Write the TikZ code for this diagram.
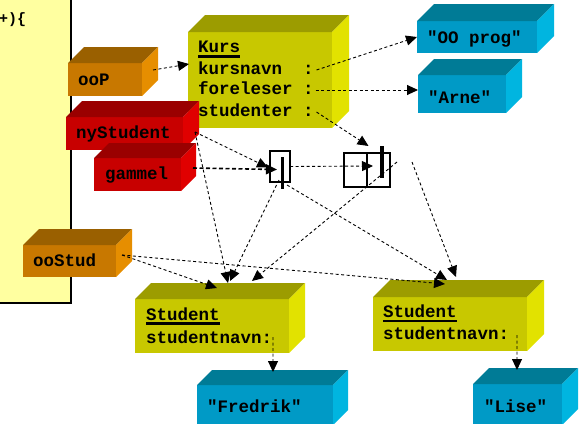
\documentclass[tikz,border=0pt]{standalone}
\usepackage{fontspec}
\setmonofont{Liberation Mono}
\usetikzlibrary{arrows.meta,calc}

\definecolor{panelY}{HTML}{FFFFA0}
\definecolor{olvF}{HTML}{C8C800}
\definecolor{olvT}{HTML}{9C9C00}
\definecolor{olvS}{HTML}{E2E200}
\definecolor{bluF}{HTML}{009AC6}
\definecolor{bluT}{HTML}{007B96}
\definecolor{bluS}{HTML}{00B5E0}
\definecolor{orgF}{HTML}{C87800}
\definecolor{orgT}{HTML}{9A6000}
\definecolor{orgS}{HTML}{E68E00}
\definecolor{redF}{HTML}{C80000}
\definecolor{redT}{HTML}{9A0000}
\definecolor{redS}{HTML}{E00000}

% top and right faces of a block whose front face is node #1
\newcommand\blockfaces[4]{%
  \fill[#3] (#1.north west) -- ++(#2,-#2) -- ($(#1.north east)+(#2,-#2)$) -- (#1.north east) -- cycle;
  \fill[#4] (#1.north east) -- ++(#2,-#2) -- ($(#1.south east)+(#2,-#2)$) -- (#1.south east) -- cycle;}

\tikzset{
  front/.style={inner sep=0pt, outer sep=0pt},
  txt/.style={inner sep=0pt, outer sep=0pt, anchor=base west,
    font=\ttfamily\bfseries\fontsize{17.5}{20}\selectfont},
  refbox/.style={draw, line width=2.5pt, inner sep=0pt, outer sep=0pt},
  conn/.style={draw, line width=0.9pt, dash pattern=on 3pt off 2.5pt,
    -{Triangle[length=11pt,width=10pt]}},
  connthick/.style={conn, line width=1.6pt, dash pattern=on 4pt off 2.5pt},
  uline/.style={line width=2.2pt}
}

\begin{document}
\begin{tikzpicture}[x=1pt,y=-1pt]
\useasboundingbox (0,0) rectangle (580,423);

% code panel on the left
\node[front, fill=panelY, minimum width=71pt, minimum height=303pt] (panel) at (35.5,151.5) {};
\draw[line width=1.2pt] (panel.north east) -- (panel.south east) -- (panel.south west);
\node[inner sep=0pt, anchor=base west, font=\ttfamily\bfseries\fontsize{15}{17}\selectfont] (code) at (-1,23) {+)\{};

% Kurs object
\node[front, fill=olvF, minimum width=144pt, minimum height=96pt] (kurs) at (260,80) {};
\blockfaces{kurs}{17}{olvT}{olvS}
\node[txt] (kursT) at (198,52) {Kurs};
\draw[uline] ($(kursT.base west)+(0,4.5)$) -- ($(kursT.base east)+(0,4.5)$);
\node[txt] (kn) at (198,74) {kursnavn~~:};
\node[txt] (fl) at (198,94) {foreleser~:};
\node[txt] (st) at (198,116) {studenter~:};

% variables
\node[front, fill=orgF, minimum width=74pt, minimum height=33pt] (oop) at (105,79.5) {};
\blockfaces{oop}{16}{orgT}{orgS}
\node[txt] (oopT) at (78,85) {ooP};

\node[front, fill=redF, minimum width=117pt, minimum height=33pt] (nys) at (124.5,133.5) {};
\blockfaces{nys}{16}{redT}{redS}
\node[txt] (nysT) at (76,138) {nyStudent};

\node[front, fill=redF, minimum width=87pt, minimum height=33pt] (gam) at (137.5,174.5) {};
\blockfaces{gam}{15}{redT}{redS}
\node[txt] (gamT) at (105,179) {gammel};

\node[front, fill=orgF, minimum width=93pt, minimum height=32pt] (oos) at (69.5,261) {};
\blockfaces{oos}{16}{orgT}{orgS}
\node[txt] (oosT) at (33,266) {ooStud};

% string objects
\node[front, fill=bluF, minimum width=120pt, minimum height=32pt] (oo) at (477,37) {};
\blockfaces{oo}{17}{bluT}{bluS}
\node[txt] (ooT) at (427,43) {"OO prog"};

\node[front, fill=bluF, minimum width=88pt, minimum height=38pt] (arne) at (462,94) {};
\blockfaces{arne}{16}{bluT}{bluS}
\node[txt] (arneT) at (428,103) {"Arne"};

% Student objects
\node[front, fill=olvF, minimum width=154pt, minimum height=54pt] (s1) at (212,326) {};
\blockfaces{s1}{16}{olvT}{olvS}
\node[txt] (s1T) at (146,320) {Student};
\draw[uline] ($(s1T.base west)+(0,3.5)$) -- ($(s1T.base east)+(0,3.5)$);
\node[txt] (sn1) at (146,343) {studentnavn:};

\node[front, fill=olvF, minimum width=154pt, minimum height=54pt] (s2) at (450,324) {};
\blockfaces{s2}{17}{olvT}{olvS}
\node[txt] (s2T) at (383,317) {Student};
\draw[uline] ($(s2T.base west)+(0,4)$) -- ($(s2T.base east)+(0,4)$);
\node[txt] (sn2) at (383,339) {studentnavn:};

\node[front, fill=bluF, minimum width=136pt, minimum height=40pt] (fred) at (265,405) {};
\blockfaces{fred}{15}{bluT}{bluS}
\node[txt] (fredT) at (207,412) {"Fredrik"};

\node[front, fill=bluF, minimum width=89pt, minimum height=41pt] (lise) at (517.5,404.5) {};
\blockfaces{lise}{16}{bluT}{bluS}
\node[txt] (liseT) at (484,412) {"Lise"};

% reference cells
\node[refbox, minimum width=20pt, minimum height=31pt] (ref1) at (280,166.5) {};
\draw[line width=3pt] ($(ref1.north)+(2,6)$) -- ($(ref1.south)+(2,7)$);
\node[refbox, minimum width=23pt, minimum height=34pt] (cellA) at (355.5,170) {};
\node[refbox, minimum width=23pt, minimum height=34pt] (cellB) at (378.5,170) {};
\draw[line width=3.5pt] ($(cellB.north)+(3.5,-7)$) -- ($(cellB.north)+(3.5,25)$);

% connectors
\draw[conn] ($(oop.east)+(11,-9.5)$) -- ($(kurs.north west)+(1,32)$);
\draw[conn] ($(kn.base east)+(3,-4)$) -- (oo.west);
\draw[conn] ($(fl.base east)+(2,-4)$) -- ($(arne.west)+(0,-4)$);
\draw[conn] ($(st.base east)+(3,-4)$) -- ($(cellB.north)+(-10,-7)$);

\draw[conn] ($(nys.east)+(12,-1.5)$) -- ($(ref1.west)+(-2,1)$);
\draw[connthick] ($(gam.east)+(12,-6.5)$) -- ($(ref1.west)+(7,3)$);
\draw[conn] ($(nys.east)+(12,-1.5)$) -- ($(s1.north west)+(93,-16)$);
\draw[conn] ($(ref1.south)+(-1,-2)$) -- ($(s1.north west)+(95,-18)$);
\draw[conn] ($(ref1.south east)+(-3,3)$) -- ($(s2.north west)+(74,-17)$);
\draw[conn] (ref1.east) -- ($(cellB.west)+(6,-4)$);
\draw[conn] ($(cellB.east)+(7,-8)$) -- ($(s1.north west)+(117,-18)$);
\draw[conn] ($(cellB.east)+(22,-8)$) -- ($(s2.north west)+(83,-20)$);
\draw[conn] ($(oos.east)+(6,-6)$) -- ($(s1.north west)+(82,-11)$);
\draw[conn] ($(oos.east)+(6,-6)$) -- ($(s2.north west)+(72,-13)$);
\draw[conn] ($(sn1.base east)+(1,-6)$) -- ($(fred.north)+(8,-13)$);
\draw[conn] ($(sn2.base east)+(8,-4)$) -- ($(lise.north)+(-0.5,-14)$);
\end{tikzpicture}
\end{document}
